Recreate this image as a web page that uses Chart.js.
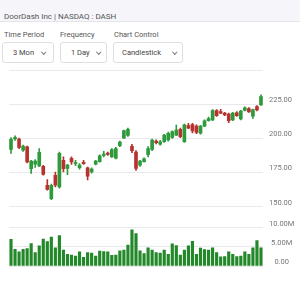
<!DOCTYPE html>
<html>
<head>
<meta charset="utf-8">
<script src="https://cdn.jsdelivr.net/npm/chart.js@4.4.1/dist/chart.umd.min.js"></script>
<style>
  html, body { margin:0; padding:0; width:300px; height:284px; overflow:hidden; background:#fff; font-family:Roboto, sans-serif; }
  .hdr { position:absolute; left:0; top:0; width:300px; height:22px; background:#f5f5fa; border-bottom:1px solid #e4e4ec; box-sizing:border-box; }
  .hdr span { position:absolute; left:4px; top:12px; font-size:8px; line-height:10px; color:#555; }
  .lbl { position:absolute; top:30px; font-size:7.5px; line-height:10px; color:#555; }
  .sel { position:absolute; top:42px; height:21px; border:1px solid #dedee4; border-radius:3px; box-sizing:border-box; font-size:7.5px; line-height:19px; color:#444; }
  .sel i { position:absolute; top:7px; width:2.5px; height:2.5px; border-right:1px solid #777; border-bottom:1px solid #777; transform:rotate(45deg); }
  #wrap { position:absolute; left:0; top:0; width:300px; height:284px; }
</style>
</head>
<body>
<div class="hdr"><span>DoorDash Inc | NASDAQ : DASH</span></div>

<div class="lbl" style="left:4px">Time Period</div>
<div class="lbl" style="left:60px">Frequency</div>
<div class="lbl" style="left:114px">Chart Control</div>

<div class="sel" style="left:2px;width:52px;padding-left:10px">3 Mon<i style="left:39px"></i></div>
<div class="sel" style="left:60px;width:47px;padding-left:10px">1 Day<i style="left:36px"></i></div>
<div class="sel" style="left:113px;width:70px;padding-left:8px">Candlestick<i style="left:59px"></i></div>

<div id="wrap"><canvas id="chart"></canvas></div>

<script>
// ── data ──
const dates = ['Mar 24','Mar 25','Mar 26','Mar 27','Mar 28','Mar 31',
  'Apr 01','Apr 02','Apr 03','Apr 04','Apr 07','Apr 08','Apr 09','Apr 10','Apr 11',
  'Apr 14','Apr 15','Apr 16','Apr 17','Apr 21','Apr 22','Apr 23','Apr 24','Apr 25',
  'Apr 28','Apr 29','Apr 30','May 01','May 02','May 05','May 06','May 07','May 08','May 09',
  'May 12','May 13','May 14','May 15','May 16','May 19','May 20','May 21','May 22','May 23',
  'May 27','May 28','May 29','May 30','Jun 02','Jun 03','Jun 04','Jun 05','Jun 06',
  'Jun 09','Jun 10','Jun 11','Jun 12','Jun 13','Jun 16','Jun 17','Jun 18','Jun 20','Jun 23'];

const opens = [191.9,199.5,199.5,191.4,193.8,177.9,181.1,179.9,179.6,165.7,
  155.9,173,164.4,184,178,185.3,181.5,178.5,182.5,178.4,
  175.4,181.1,183,187.5,189.3,186.5,185.5,194.7,200.2,202.2,
  194.2,190,180.4,183,188,191.9,198,195.8,197.5,198.8,
  200.7,202.4,206.6,197.5,209.3,210,209,203.7,209,213,
  213.5,220.3,219.6,218.4,217.8,213.5,218.6,214.2,220.5,221.8,
  216.2,223.2,224.5];
const closes = [199.3,200.8,193.4,194.3,182.8,183.3,183.3,189.7,173.7,162.7,
  165.7,165.7,189,177.9,180.4,182.8,182.2,180.5,181.5,172.3,
  177.6,183.4,187.3,188.5,188.3,191.7,192.6,197.3,205.6,206.6,
  191,178,183.4,185,192.5,198.8,196.8,197.5,202.4,203.7,
  204.9,206,201.2,209.8,207.4,205.5,204.3,209,212.9,214.5,
  220.3,216.5,218.4,217.1,213,218.4,216.6,220,222.3,219.4,
  221,220.8,230.6];
const highs = [200.5,201.8,200.2,195,194.3,184,184.5,192.6,180.2,169.9,
  166.5,175.4,190,186.5,181,186.5,184,181.5,184,179,
  178.5,184,188,190.5,190,192.5,193.5,198,206,207.5,
  195.6,191,184,185.8,194,199.5,199,198.5,203,204.5,
  205.5,209.7,207.5,210.5,211,211,209.8,209.5,213.5,215.5,
  221,221,221.3,219,218.5,219,219.5,220.5,223,222.5,
  221.5,224,231.8];
const lows = [189,198.5,192.5,190.5,182,174.3,178.7,179.2,173,162,
  155.2,164.5,163.5,175.4,173.5,181,180,177.5,181,169.5,
  174.5,180.5,182.5,186.5,187.5,186,185,194,200,201.5,
  189.5,176.5,179.5,182.5,186.5,191,196,195,197,198,
  200,202,200.5,197,207,204,203.5,203,208.5,212.5,
  213,216,218,216.5,211.5,213,216,213.5,220,219,
  214.5,220,224];
// volume in millions
const volumes = [7.0,4.4,3.7,4.4,4.6,5.9,3.5,5.3,7.1,6.4,
  7.6,4.8,8.0,4.2,3.1,2.9,2.6,3.7,2.3,3.5,
  3.4,2.6,3.9,3.8,3.7,2.8,2.9,4.0,4.2,5.5,
  9.5,8.5,4.0,3.3,4.8,4.2,3.5,3.4,4.2,3.1,
  5.8,5.4,2.9,4.2,5.3,6.5,3.1,4.7,4.3,4.2,
  4.8,3.5,2.4,2.5,3.7,3.1,2.5,2.6,3.7,3.1,
  4.8,6.7,4.8];

const tickDates  = ['Mar 31','Apr 21','May 12','Jun 02','Jun 23'];
const tickLabels = ['Mar 30','Apr 20','May 11','Jun 01','Jun 22'];
const volTicks   = [0, 5, 10];   // millions

// ── chart ──
const UP = '#2f9a3c', DOWN = '#b7322f', VOL = '#23882a', GRID = '#e9e9ec';
const candleCol = opens.map((o, i) => closes[i] >= o ? UP : DOWN);
const tickFont = { family: 'Roboto', size: 7.5 };

new Chart(document.getElementById('chart'), {
  type: 'bar',
  data: {
    labels: dates,
    datasets: [
      { data: lows.map((l, i) => [l, highs[i]]), yAxisID: 'y', backgroundColor: candleCol,
        barThickness: 1, grouped: false, order: 2 },
      { data: opens.map((o, i) => [o, closes[i]]), yAxisID: 'y', backgroundColor: candleCol,
        barThickness: 3, minBarLength: 1, grouped: false, order: 1 },
      { data: volumes.map(v => v * 1e6), yAxisID: 'yv', backgroundColor: VOL,
        barThickness: 2.5, grouped: false }
    ]
  },
  options: {
    responsive: true, maintainAspectRatio: false, animation: false,
    layout: { padding: { top: 70, left: 9, right: 0, bottom: 5 } },
    plugins: { legend: { display: false }, tooltip: { enabled: false } },
    scales: {
      x: {
        grid: { display: false }, border: { display: false },
        ticks: {
          autoSkip: false, maxRotation: 0, padding: 4, color: '#777', font: tickFont,
          callback: (v, i) => { const k = tickDates.indexOf(dates[i]); return k >= 0 ? tickLabels[k] : ''; }
        },
        afterFit: s => { s.height = 13; }
      },
      y: {
        position: 'right', stack: 'main', stackWeight: 136,
        min: 150, max: 250,
        grid: { color: GRID, drawTicks: false }, border: { display: false },
        ticks: { autoSkip: false, stepSize: 25, padding: 6, labelOffset: -4, crossAlign: 'center', color: '#777', font: tickFont,
          callback: v => v === 250 ? '' : v.toFixed(2) },
        afterFit: s => { s.width = 37; }
      },
      yv: {
        position: 'right', stack: 'main', stackWeight: 59,
        min: 0, max: 15.6e6,
        afterBuildTicks: s => { s.ticks = volTicks.map(v => ({ value: v * 1e6 })); },
        grid: { color: GRID, drawTicks: false }, border: { display: false },
        ticks: { autoSkip: false, padding: 6, labelOffset: -4, crossAlign: 'center', color: '#777', font: tickFont,
          callback: v => v === 0 ? '0.00' : (v / 1e6).toFixed(2) + 'M' },
        afterFit: s => { s.width = 37; }
      }
    }
  }
});
</script>
</body>
</html>
